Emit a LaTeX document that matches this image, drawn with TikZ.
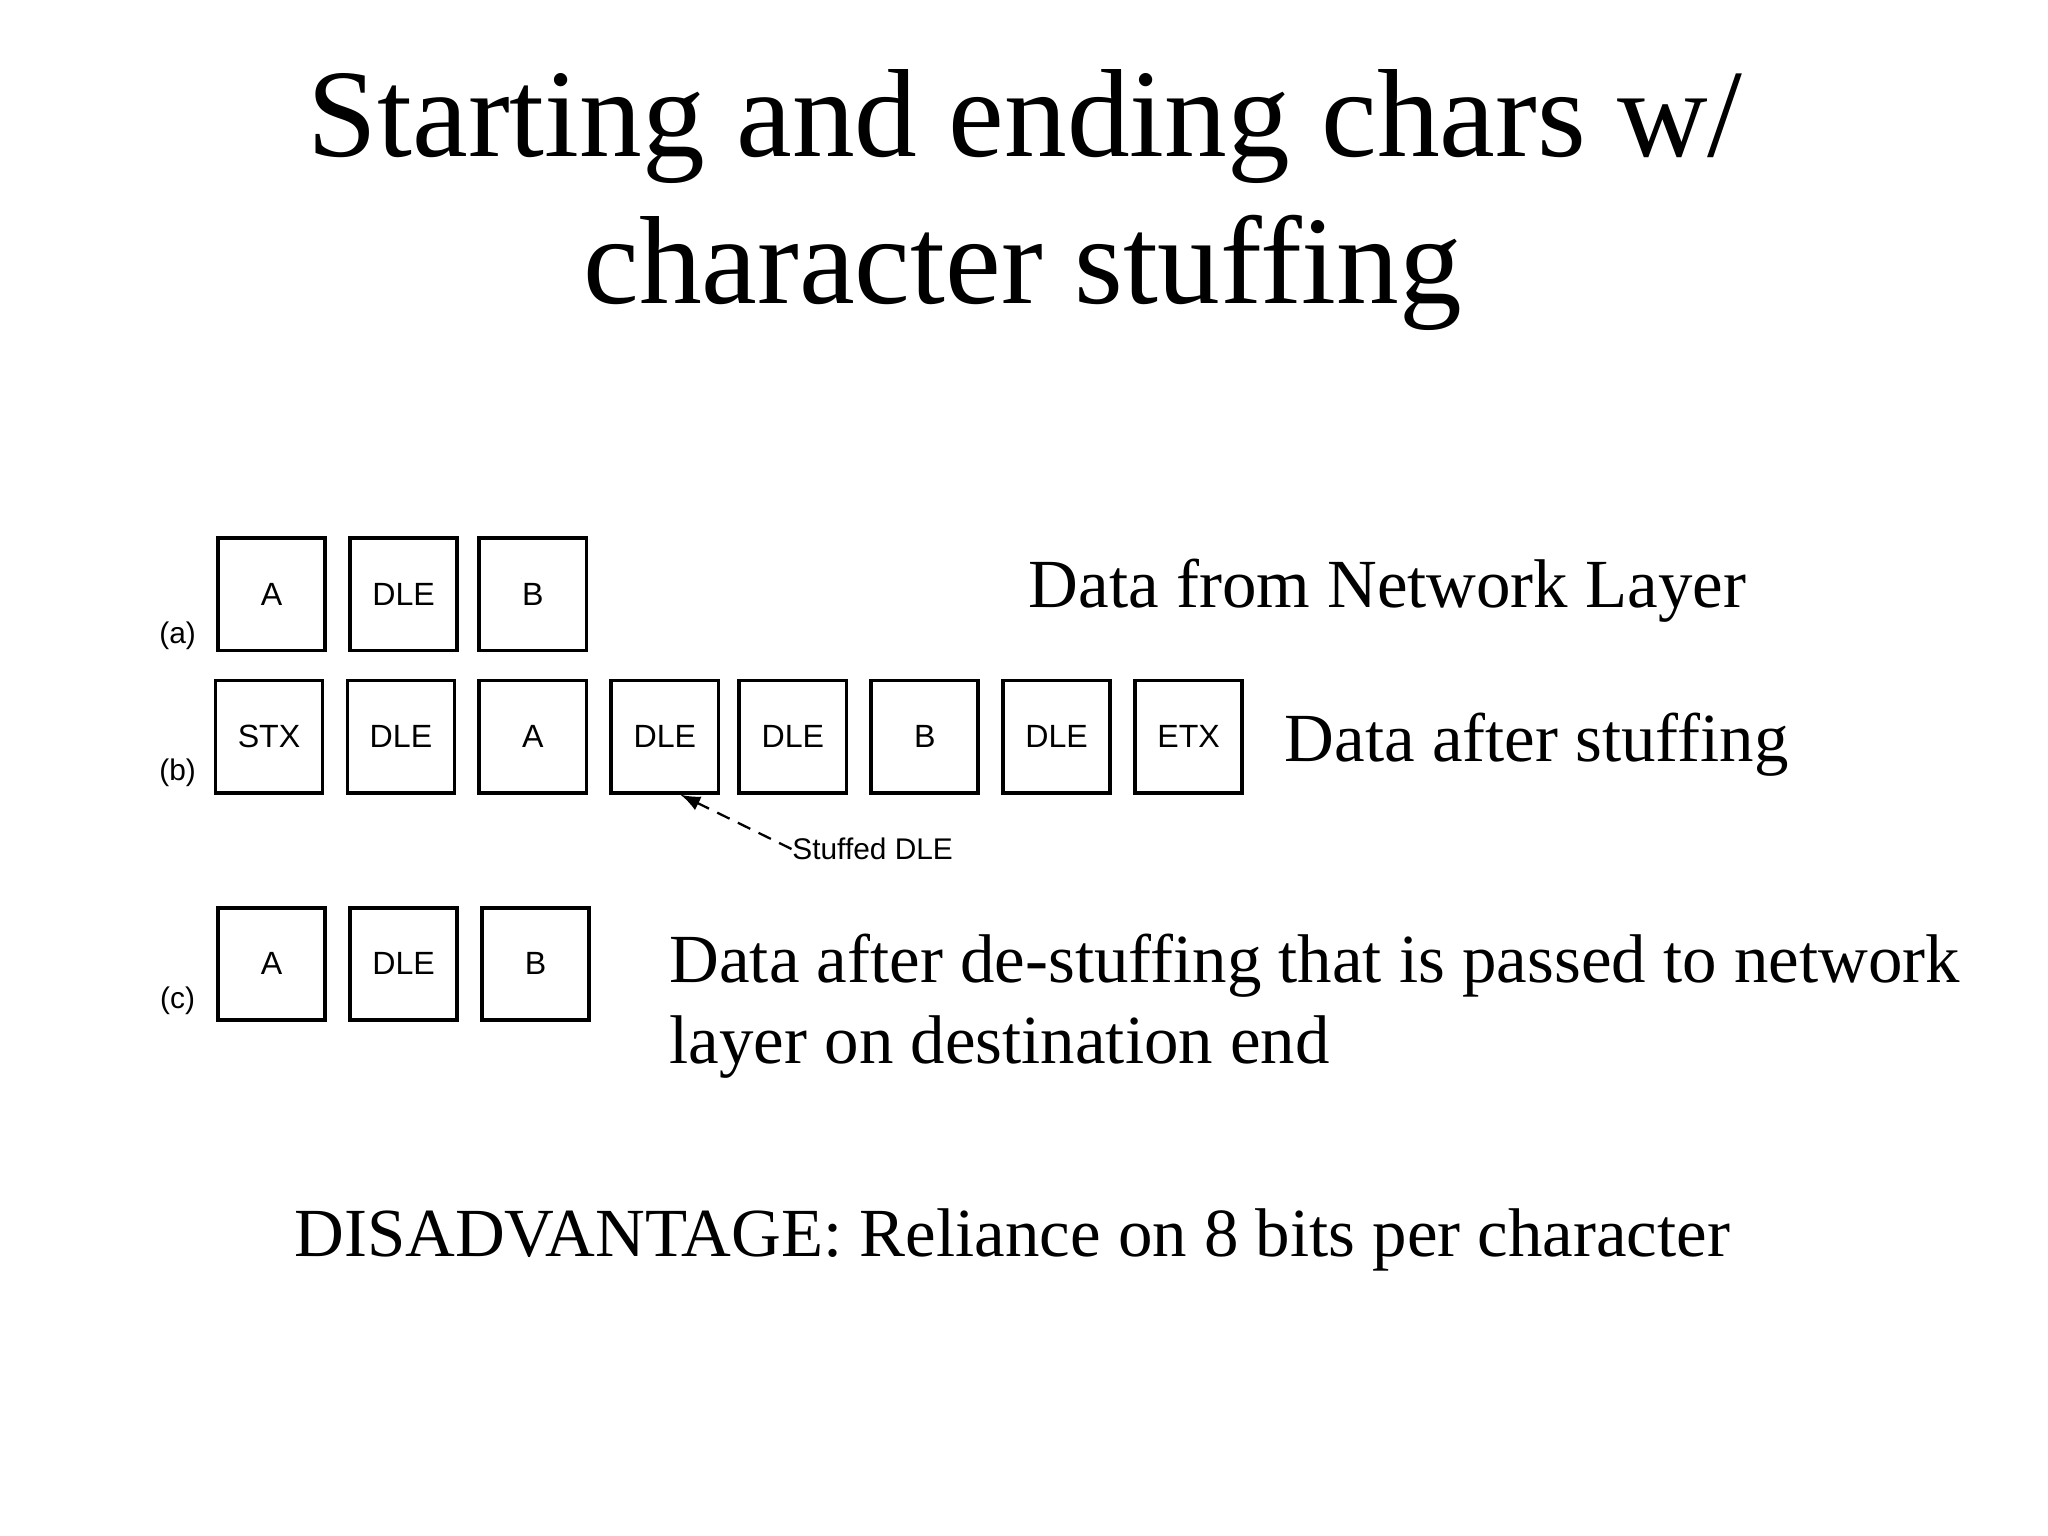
\documentclass[tikz,border=0pt]{standalone}
\usepackage{fontspec}
\setmainfont{Liberation Serif}
\setsansfont{Liberation Sans}
\begin{document}
\begin{tikzpicture}[x=0.01cm,y=-0.01cm,
  cell/.style={draw,line width=0.8pt,minimum width=0.82cm,minimum height=0.86cm,inner sep=0pt,font=\sffamily\fontsize{7}{8}\selectfont},
  tag/.style={font=\sffamily\fontsize{6.5}{8}\selectfont},
  big/.style={font=\fontsize{15}{18}\selectfont,anchor=base west,inner sep=0pt},
  ttl/.style={font=\fontsize{27.3}{32}\selectfont,anchor=base,inner sep=0pt}]
\useasboundingbox (0,0) rectangle (1568,1176);
\node[ttl] (title1) at (785,120) {Starting and ending chars w/};
\node[ttl] (title2) at (783,232) {character stuffing};
% row a
\node[cell] (a1) at (208,455) {A};
\node[cell] (a2) at (309,455) {DLE};
\node[cell] (a3) at (408,455) {B};
\node[tag] (la) at (136,487) {(a)};
% row b
\node[cell] (b1) at (206,564) {STX};
\node[cell] (b2) at (307,564) {DLE};
\node[cell] (b3) at (408,564) {A};
\node[cell] (b4) at (509,564) {DLE};
\node[cell] (b5) at (607,564) {DLE};
\node[cell] (b6) at (708,564) {B};
\node[cell] (b7) at (809,564) {DLE};
\node[cell] (b8) at (910,564) {ETX};
\node[tag] (lb) at (136,592) {(b)};
\node[tag,anchor=west,inner sep=0pt] (sd) at (606,650) {Stuffed DLE};
\coordinate (tip) at ([xshift=0.12cm]b4.south);
\draw[-latex,densely dashed,line width=0.5pt] (sd.west) -- (tip);
% row c
\node[cell] (c1) at (208,738) {A};
\node[cell] (c2) at (309,738) {DLE};
\node[cell] (c3) at (410,738) {B};
\node[tag] (lc) at (136,766) {(c)};
% labels
\node[big] (t1) at (787,465) {Data from Network Layer};
\node[big] (t2) at (983,583) {Data after stuffing};
\node[big] (t3) at (512,752) {Data after de-stuffing that is passed to network};
\node[big] (t3b) at (512,814) {layer on destination end};
\node[big,anchor=base] (t4) at (775,962) {DISADVANTAGE: Reliance on 8 bits per character};
\end{tikzpicture}
\end{document}
